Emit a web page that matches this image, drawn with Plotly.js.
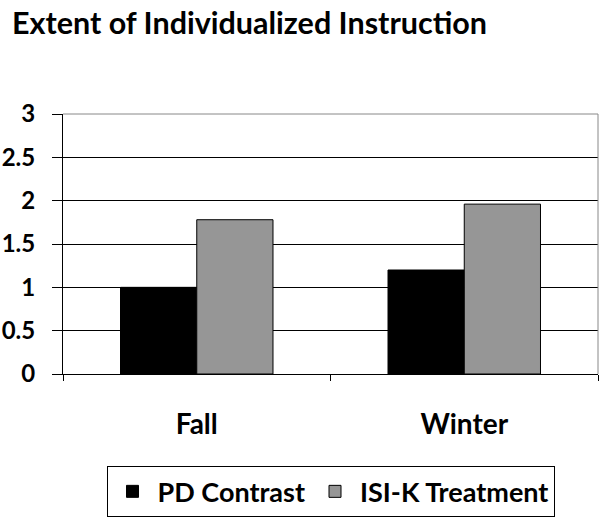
<!DOCTYPE html>
<html>
<head>
<meta charset="utf-8">
<script src="https://cdn.plot.ly/plotly-3.0.1.min.js"></script>
<style>
  body { margin: 0; background: #fff; }
  #plotArea { width: 600px; height: 519px; }
</style>
</head>
<body>
<div id="plotArea"></div>
<script>
// data
var seasons = ["Fall", "Winter"];
var pdContrast = [1.0, 1.2];
var isiTreatment = [1.78, 1.96];
var yTicks = [0, 0.5, 1, 1.5, 2, 2.5, 3];

var boldFont = { family: "Lato, 'Open Sans', sans-serif", weight: "bold", color: "#000" };

var trace1 = {
	x: seasons,
	y: pdContrast,
	type: "bar",
	name: "PD Contrast",
	marker: { color: "#000000", line: { color: "#000000", width: 1 } }
};

var trace2 = {
	x: seasons,
	y: isiTreatment,
	type: "bar",
	name: "ISI-K Treatment",
	marker: { color: "#969696", line: { color: "#000000", width: 1 } }
};

var data = [trace1, trace2];

var layout = {
	width: 600,
	height: 519,
	margin: { l: 63, r: 2, t: 114, b: 145 },
	paper_bgcolor: "#fff",
	plot_bgcolor: "#fff",
	barmode: "group",
	bargap: 0.43,
	bargroupgap: 0,
	title: {
		text: "Extent of Individualized Instruction",
		x: 0.02, xanchor: "left",
		y: 0.975, yanchor: "top",
		font: Object.assign({ size: 30.5 }, boldFont)
	},
	xaxis: {
		type: "category",
		showline: true, linecolor: "#000", linewidth: 1,
		ticks: "outside", tickson: "boundaries", ticklen: 6, tickcolor: "#000",
		ticklabelstandoff: 25,
		tickfont: Object.assign({ size: 28 }, boldFont),
		showgrid: false
	},
	yaxis: {
		range: [0, 3],
		tickvals: yTicks,
		ticktext: yTicks.map(String),
		showline: true, linecolor: "#000", linewidth: 1,
		ticks: "outside", ticklen: 10, tickcolor: "#000",
		ticklabelstandoff: 12,
		tickfont: Object.assign({ size: 24 }, boldFont),
		showgrid: true, gridcolor: "#000", gridwidth: 1,
		zeroline: false
	},
	legend: {
		orientation: "h",
		x: 0.5, xanchor: "center",
		y: -0.355, yanchor: "top",
		bordercolor: "#000", borderwidth: 1,
		font: Object.assign({ size: 27 }, boldFont),
		itemwidth: 40
	},
	shapes: [
		{ type: "line", xref: "paper", yref: "paper", x0: 0, x1: 1, y0: 1, y1: 1, line: { color: "#888", width: 1 } },
		{ type: "line", xref: "paper", yref: "paper", x0: 1, x1: 1, y0: 0, y1: 1, line: { color: "#888", width: 1 } }
	]
};

Plotly.newPlot("plotArea", data, layout, { displayModeBar: false });
</script>
</body>
</html>
